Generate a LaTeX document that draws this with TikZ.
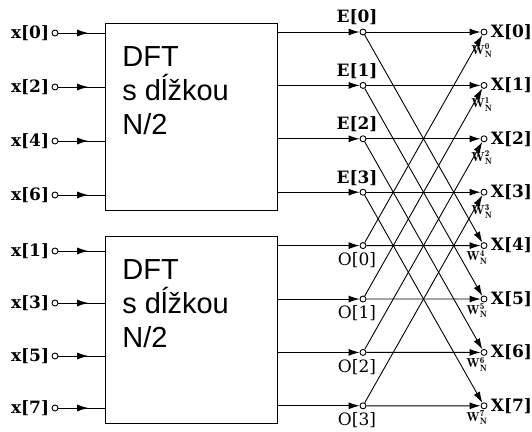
\documentclass[tikz,border=0pt]{standalone}
\usepackage{fontspec}
\usetikzlibrary{arrows.meta,positioning,decorations.markings}
\newfontfamily\dftfont{Liberation Sans}
\newfontfamily\lblfont{DejaVu Serif}

\tikzset{
  tap/.style={circle,draw,fill=white,inner sep=0pt,minimum size=6pt},
  dftbox/.style={draw,rectangle,inner sep=0pt,minimum width=172pt,minimum height=187pt,anchor=north west},
  lbl/.style={font=\lblfont\bfseries\fontsize{17}{19}\selectfont,inner sep=0pt},
  olbl/.style={font=\lblfont\fontsize{17}{19}\selectfont,inner sep=0pt},
  wlbl/.style={font=\fontsize{13}{13}\selectfont,inner sep=0pt},
  arr/.style={-{Latex[length=11pt,width=7pt]}},
  midarr/.style={postaction={decorate},decoration={markings,
      mark=at position 0.64 with {\arrow{Latex[length=11pt,width=7pt]}}}}
}

\begin{document}
\begin{tikzpicture}[x=1pt,y=-1pt,line width=0.9pt]
  \useasboundingbox (0,0) rectangle (532,431);

  % the two half-length blocks
  \node[dftbox] (topdft) at (105,23) {};
  \node[dftbox] (botdft) at (105,236) {};
  \node[font=\dftfont\fontsize{29}{34}\selectfont,align=left,anchor=north west,inner sep=0pt]
    at ([xshift=17pt,yshift=-23pt]topdft.north west) {DFT\\s dĺžkou\\N/2};
  \node[font=\dftfont\fontsize{29}{34}\selectfont,align=left,anchor=north west,inner sep=0pt]
    at ([xshift=17pt,yshift=-23pt]botdft.north west) {DFT\\s dĺžkou\\N/2};

  % inputs
  \foreach \n/\y in {0/33,2/87,4/141,6/195,1/251,3/303,5/356,7/408} {
    \node[tap] (in\n) at (55,\y) {};
    \node[lbl,left=2pt of in\n] (inl\n) {x[\n]};
  }
  \foreach \n in {0,2,4,6}
    \draw[midarr] (in\n) -- (in\n -| topdft.west);
  \foreach \n in {1,3,5,7}
    \draw[midarr] (in\n) -- (in\n -| botdft.west);

  % outputs X[k]
  \foreach \k in {0,...,7} {
    \pgfmathsetmacro\yx{32+53.4*\k}
    \node[tap] (X\k) at (484,\yx) {};
    \node[lbl,right=3pt of X\k] (Xl\k) {X[\k]};
  }
  \foreach \k in {0,...,3}
    \node[wlbl,below=8pt of X\k,xshift=-2pt] (W\k) {$\mathbf{W}_{\mathbf{N}}^{\mathbf{\k}}$};
  \foreach \k in {4,...,7}
    \node[wlbl,below=1pt of X\k,xshift=-7pt] (W\k) {$\mathbf{W}_{\mathbf{N}}^{\mathbf{\k}}$};

  % even and odd half spectra
  \foreach \k in {0,...,3} {
    \pgfmathsetmacro\ye{32+53.4*\k}
    \pgfmathsetmacro\yo{245.6+53.4*\k}
    \pgfmathtruncatemacro\m{\k+4}
    \node[tap] (e\k) at (363,\ye) {};
    \node[lbl,above=3pt of e\k,xshift=-6pt] (el\k) {E[\k]};
    \node[tap] (o\k) at (363,\yo) {};
    \node[olbl,below=3pt of o\k,xshift=-6pt] (ol\k) {O[\k]};
    \draw[arr] (e\k -| topdft.east) -- (e\k);
    \draw[arr] (o\k -| botdft.east) -- (o\k);
    \draw[arr] (e\k) -- (X\k);
    \draw[arr] (e\k) -- (X\m);
    \draw[arr] (o\k) -- (X\m);
    \draw[arr] (o\k) -- (X\k);
  }
\end{tikzpicture}
\end{document}
